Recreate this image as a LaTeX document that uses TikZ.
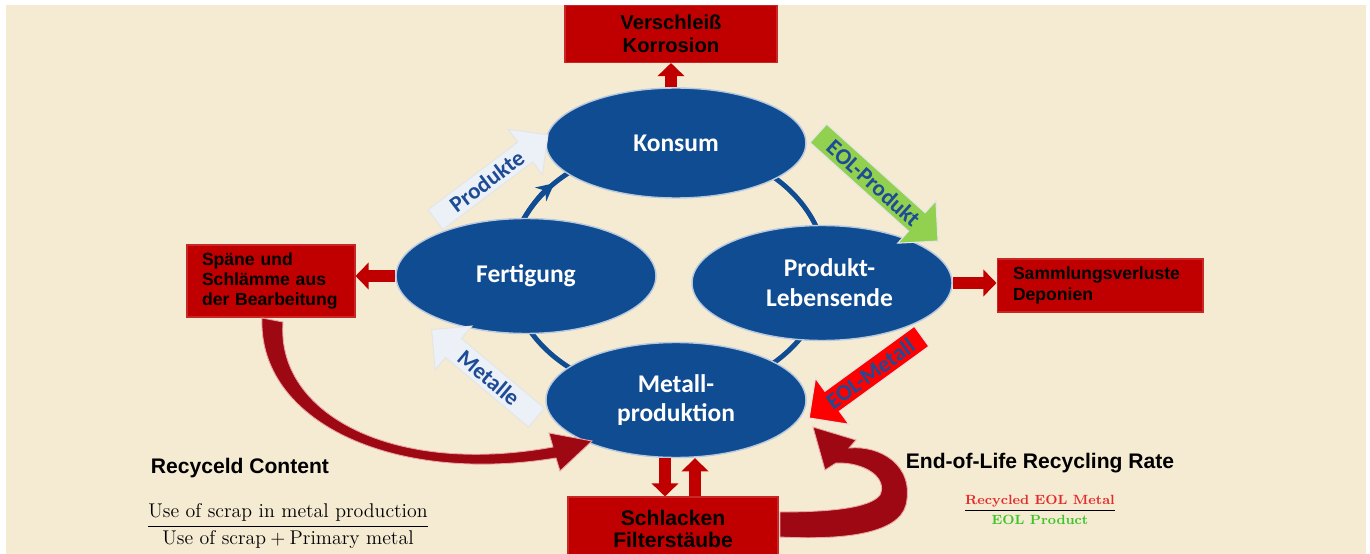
\documentclass[tikz,border=0pt]{standalone}
\usepackage{amsmath}
\usepackage{fontspec}
\usetikzlibrary{shapes.geometric, shapes.arrows, positioning, arrows.meta}
\newfontfamily\calibri{Carlito}
\newfontfamily\arialf{Liberation Sans}
\definecolor{creme}{RGB}{245,235,210}
\definecolor{bleu}{RGB}{16,76,146}
\definecolor{bleutexte}{RGB}{30,75,150}
\definecolor{rouge}{RGB}{192,0,0}
\definecolor{rougefonce}{RGB}{158,8,18}
\definecolor{vert}{RGB}{146,208,80}
\definecolor{pale}{RGB}{236,241,248}
\definecolor{rougeclair}{RGB}{226,44,44}
\definecolor{vertclair}{RGB}{60,196,40}

\begin{document}
\begin{tikzpicture}[x=0.02cm, y=-0.02cm,
    etape/.style={ellipse, fill=bleu, draw=white!70!bleu, line width=0.8pt,
      minimum width=5.2cm, minimum height=2.3cm, inner sep=0pt, align=center,
      text=white, font=\calibri\bfseries\fontsize{14.5}{17}\selectfont},
    perte/.style={rectangle, fill=rouge, draw=rouge!85!white, line width=0.6pt,
      text=black, font=\arialf\bfseries\fontsize{10}{11.5}\selectfont},
    fleche/.style={single arrow, single arrow head extend=0.27cm, minimum width=1.14cm,
      inner sep=1pt, anchor=tail, draw=white!80!gray, line width=0.6pt,
      text=bleutexte, font=\calibri\bfseries\fontsize{13}{15}\selectfont},
    rflux/.style={draw=rouge, line width=6.8pt, -{Triangle[length=7.5pt, width=15pt]}},
    anneau/.style={draw=bleu, line width=2.8pt},
    courbe/.style={fill=rougefonce, draw=white!65!rouge, line width=0.5pt},
    titre/.style={font=\arialf\bfseries\fontsize{12}{14}\selectfont}]

    % Fond
    \useasboundingbox (0,0) rectangle (1370,554);
    \fill[creme] (6,5) rectangle (1366,554);

    % Anneau
    \coordinate (ringc) at (668,270);
    \draw[anneau] (ringc) ellipse [x radius=3.16cm, y radius=2.5cm];
    \draw[anneau, -{Stealth[length=10pt, width=10pt]}] ([shift={(157:3.16cm and 2.5cm)}]ringc)
        arc [start angle=157, end angle=136, x radius=3.16cm, y radius=2.5cm];

    % Etapes
    \node[etape, minimum height=2.2cm] (konsum) at (676,143) {Konsum};
    \node[etape] (fert) at (526,276) {Fertigung};
    \node[etape] (leben) at (822,283) {\hspace*{0.3cm}Produkt-\\\hspace*{0.3cm}Lebensende};
    \node[etape] (metall) at (676,400) {Metall-\\produktion};

    % Boucle de retour (Schlacken)
    \fill[courbe] (780,512) .. controls (830,512) and (870,508) .. (880,495)
        .. controls (888,478) and (865,462) .. (836,463)
        -- (825,470) -- (813,427) -- (856,440) -- (849,448)
        .. controls (880,445) and (915,465) .. (906,505)
        .. controls (898,535) and (840,540) .. (780,537) -- cycle;

    % Pertes
    \node[perte, font=\arialf\bfseries\fontsize{11.5}{13}\selectfont, align=center,
          minimum width=4.24cm, minimum height=1.14cm] (verschl) at (671,34) {Verschleiß\\Korrosion};
    \node[perte, align=left, inner xsep=0.3cm, text width=2.76cm,
          minimum height=1.44cm] (spaene) at (271,281) {Späne und\\Schlämme aus\\der Bearbeitung};
    \node[perte, align=left, inner xsep=0.32cm, text width=3.48cm,
          minimum height=1.06cm] (samml) at (1100,285.5) {Sammlungsverluste\\Deponien};
    \node[perte, font=\arialf\bfseries\fontsize{12}{13}\selectfont, align=center,
          minimum width=4.2cm, minimum height=1.28cm] (schlacken) at (673,529) {Schlacken\\Filterstäube};

    % Fleches rouges
    \draw[rflux] (konsum.north -| verschl.south) -- (verschl.south);
    \draw[rflux] (fert.west) -- (fert.west -| spaene.east);
    \draw[rflux] (leben.east) -- (leben.east -| samml.west);
    \draw[rflux] ([xshift=-0.22cm]metall.south) -- ([xshift=-0.22cm]metall.south |- schlacken.north);
    \draw[rflux] ([xshift=0.38cm]metall.south |- schlacken.north) -- ([xshift=0.38cm]metall.south);

    % Fleche courbe (Spaene)
    \fill[courbe] (262,318) .. controls (258,420) and (390,485) .. (556,458)
        -- (560,471) -- (592,441) -- (549,433) -- (553,447)
        .. controls (395,476) and (276,415) .. (283,322) -- cycle;

    % Flux principaux
    \node[fleche, fill=pale, rotate=37, minimum height=2.82cm] (produkte) at (435,220) {Produkte};
    \node[fleche, fill=vert, rotate=-42, minimum height=3.22cm] (eolprod) at (818,133) {EOL-Produkt};
    \node[fleche, fill=red, rotate=36, shape border rotate=180, minimum height=2.78cm] (eolmet) at (922,336) {EOL-Metall};
    \node[fleche, fill=pale, rotate=-40, shape border rotate=180, minimum height=2.74cm] (metalle) at (537,418) {Metalle};

    % Indicateurs
    \node[titre] (rc) at (240,468) {Recyceld Content};
    \node[font=\fontsize{11.3}{13}\selectfont] (fracrc) at (288,526)
        {$\dfrac{\text{Use of scrap in metal production}}{\text{Use of scrap} + \text{Primary metal}}$};
    \node[titre] (eolr) at (1040,463) {End-of-Life Recycling Rate};
    \node[font=\bfseries\fontsize{7.6}{9}\selectfont] (fraceol) at (1040,510)
        {$\dfrac{\text{\textcolor{rougeclair}{Recycled EOL Metal}}}{\text{\textcolor{vertclair}{EOL Product}}}$};
\end{tikzpicture}
\end{document}
